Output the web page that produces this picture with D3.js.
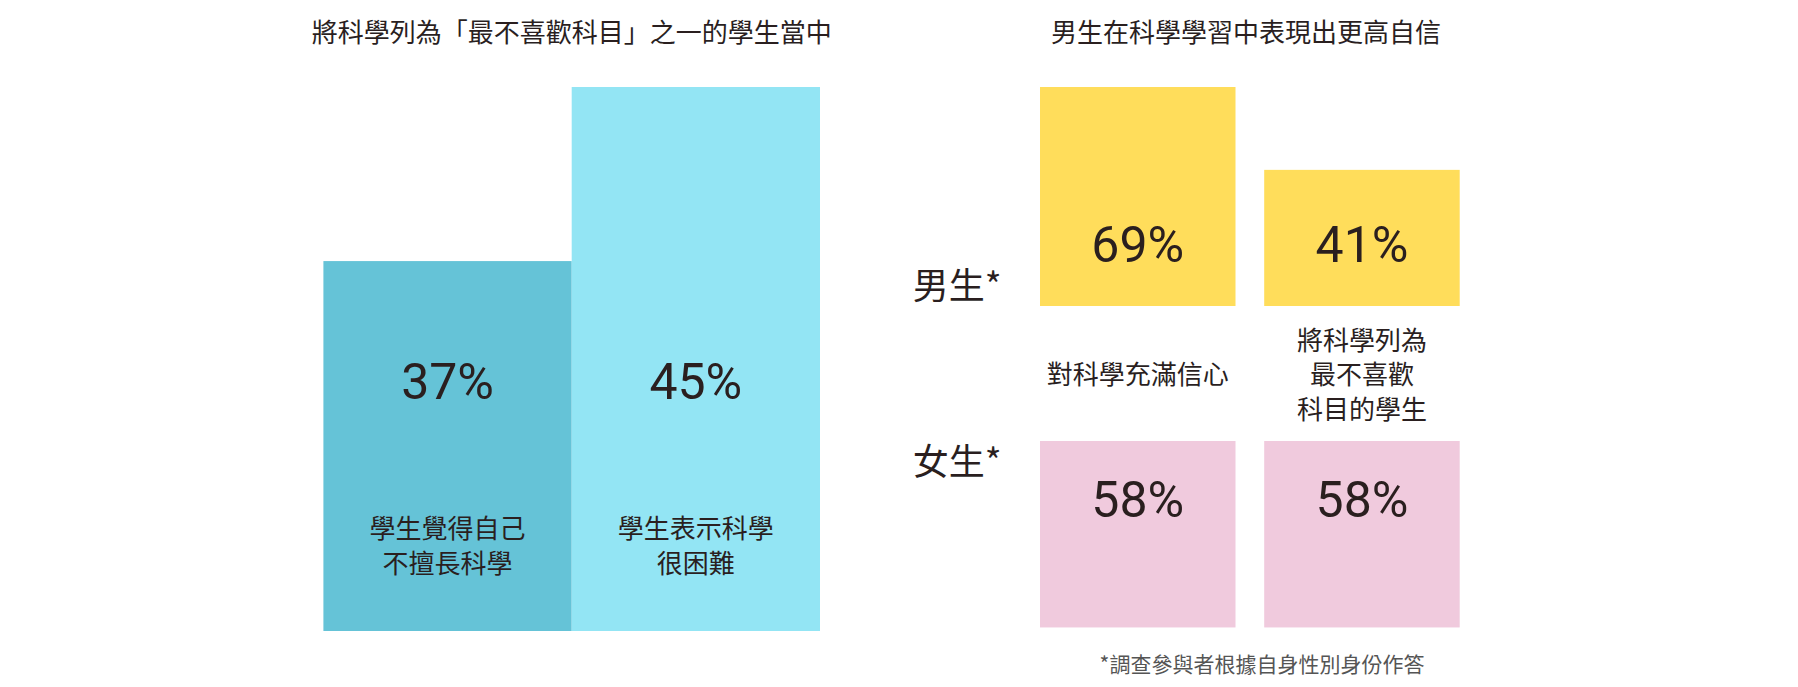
<!DOCTYPE html>
<html>
<head>
<meta charset="utf-8">
<script src="https://cdn.jsdelivr.net/npm/d3@7"></script>
<style>
  html, body { margin: 0; padding: 0; background: #fff; }
  svg { display: block; }
  .cjk { font-family: "Noto Sans CJK TC", "Noto Sans CJK SC", sans-serif; }
  .num { font-family: Roboto, "Liberation Sans", sans-serif; font-weight: 400; }
</style>
</head>
<body>
<svg id="chart" width="1798" height="687"></svg>
<script>
// ---- Data ----
const leftTitle = "將科學列為「最不喜歡科目」之一的學生當中";
const leftCategories = ["學生覺得自己\n不擅長科學", "學生表示科學\n很困難"];
const leftValues = [37, 45];

const rightTitle = "男生在科學學習中表現出更高自信";
const rightCategories = ["對科學充滿信心", "將科學列為\n最不喜歡\n科目的學生"];
const rightGroups = ["男生*", "女生*"];
const maleValues = [69, 41];
const femaleValues = [58, 58];
const footnote = "*調查參與者根據自身性別身份作答";

// ---- Style ----
const textColor = "#2a1f1f";
const leftColors = ["#65c3d7", "#93e5f4"];
const maleColor = "#ffdd5b";
const femaleColor = "#f0cadd";

const svg = d3.select("#chart");

// ---- Left chart ----
const lx = d3.scaleBand().domain(leftCategories).range([323.4, 820]).padding(0);
const ly = d3.scaleLinear().domain([20, 45]).range([631, 87]);

const lg = svg.append("g");
lg.append("text").attr("class", "cjk")
  .attr("x", (lx.range()[0] + lx.range()[1]) / 2).attr("y", 41.5)
  .attr("text-anchor", "middle").attr("font-size", 26).attr("fill", textColor)
  .text(leftTitle);

lg.selectAll("rect.lbar").data(leftCategories).join("rect")
  .attr("class", "lbar")
  .attr("x", d => lx(d))
  .attr("width", lx.bandwidth())
  .attr("y", (d, i) => ly(leftValues[i]))
  .attr("height", (d, i) => ly(20) - ly(leftValues[i]))
  .attr("fill", (d, i) => leftColors[i]);

lg.selectAll("text.lval").data(leftCategories).join("text")
  .attr("class", "lval num")
  .attr("x", d => lx(d) + lx.bandwidth() / 2)
  .attr("y", 398.5)
  .attr("text-anchor", "middle").attr("font-size", 50).attr("fill", textColor)
  .text((d, i) => leftValues[i] + "%");

lg.selectAll("text.lcat").data(leftCategories).join("text")
  .attr("class", "lcat cjk")
  .attr("text-anchor", "middle").attr("font-size", 26).attr("fill", textColor)
  .each(function(d) {
    const cx = lx(d) + lx.bandwidth() / 2;
    d3.select(this).selectAll("tspan").data(d.split("\n")).join("tspan")
      .attr("x", cx)
      .attr("y", (t, j) => 537.5 + j * 35.5)
      .text(t => t);
  });

// ---- Right chart ----
const rx = d3.scaleBand().domain(rightCategories).range([1040, 1459.7]).paddingInner(0.128).paddingOuter(0);
const rh = d3.scaleLinear().domain([-5, 69]).range([0, 219]);
const maleBase = 306;
const femaleTop = 441;

const rg = svg.append("g");
rg.append("text").attr("class", "cjk")
  .attr("x", 1246).attr("y", 41.5)
  .attr("text-anchor", "middle").attr("font-size", 26).attr("fill", textColor)
  .text(rightTitle);

rg.selectAll("rect.male").data(rightCategories).join("rect")
  .attr("class", "male")
  .attr("x", d => rx(d)).attr("width", rx.bandwidth())
  .attr("y", (d, i) => maleBase - rh(maleValues[i]))
  .attr("height", (d, i) => rh(maleValues[i]))
  .attr("fill", maleColor);

rg.selectAll("rect.female").data(rightCategories).join("rect")
  .attr("class", "female")
  .attr("x", d => rx(d)).attr("width", rx.bandwidth())
  .attr("y", femaleTop)
  .attr("height", (d, i) => rh(femaleValues[i]))
  .attr("fill", femaleColor);

rg.selectAll("text.mval").data(rightCategories).join("text")
  .attr("class", "mval num")
  .attr("x", d => rx(d) + rx.bandwidth() / 2).attr("y", 262)
  .attr("text-anchor", "middle").attr("font-size", 50).attr("fill", textColor)
  .text((d, i) => maleValues[i] + "%");

rg.selectAll("text.fval").data(rightCategories).join("text")
  .attr("class", "fval num")
  .attr("x", d => rx(d) + rx.bandwidth() / 2).attr("y", 517)
  .attr("text-anchor", "middle").attr("font-size", 50).attr("fill", textColor)
  .text((d, i) => femaleValues[i] + "%");

rg.selectAll("text.rcat").data(rightCategories).join("text")
  .attr("class", "rcat cjk")
  .attr("text-anchor", "middle").attr("font-size", 26).attr("fill", textColor)
  .each(function(d) {
    const cx = rx(d) + rx.bandwidth() / 2;
    const lines = d.split("\n");
    const mid = 384;
    const lh = 34.5;
    d3.select(this).selectAll("tspan").data(lines).join("tspan")
      .attr("x", cx)
      .attr("y", (t, j) => mid + (j - (lines.length - 1) / 2) * lh)
      .text(t => t);
  });

const groupY = [298.7, 474.6];
rg.selectAll("text.grp").data(rightGroups).join("text")
  .attr("class", "grp cjk")
  .attr("x", 912.8).attr("y", (d, i) => groupY[i])
  .attr("font-size", 36).attr("fill", textColor)
  .text(d => d);

rg.append("text").attr("class", "cjk")
  .attr("x", 1262).attr("y", 672)
  .attr("text-anchor", "middle").attr("font-size", 21).attr("fill", "#555")
  .text(footnote);
</script>
</body>
</html>
